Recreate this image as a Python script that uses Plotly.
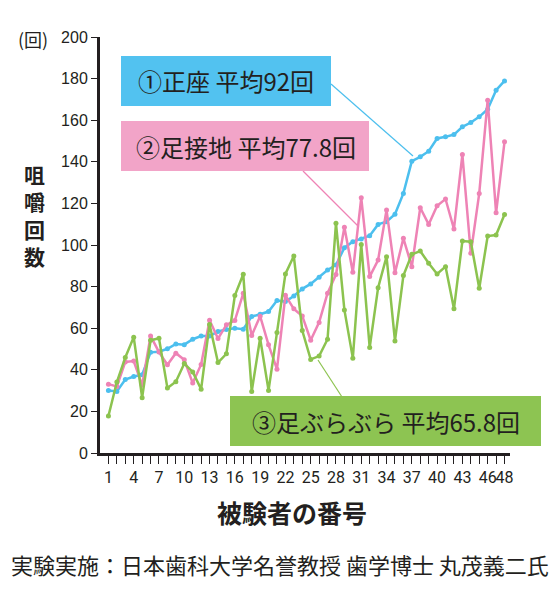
import plotly.graph_objects as go

# ---- data ----
subjects = list(range(1, 49))
tick_labels = [str(i) if (i - 1) % 3 == 0 or i == 48 else "" for i in subjects]

seiza = [30.0, 29.6, 35.3, 36.8, 37.6, 48.4, 48.7, 50.1, 52.4, 52.1,
         54.7, 56.2, 56.2, 58.4, 59.4, 60.0, 59.5, 65.6, 66.7, 68.0,
         73.3, 72.8, 75.5, 78.9, 81.3, 84.5, 88.0, 90.4, 98.7, 101.6,
         102.9, 104.5, 109.9, 111.2, 114.8, 124.8, 140.3, 142.4, 145.1, 151.2,
         152.0, 153.1, 156.8, 158.9, 161.6, 165.3, 174.4, 178.9]
ashi_setchi = [33.1, 32.0, 43.8, 44.2, 32.6, 56.3, 48.5, 42.4, 48.0, 44.8,
               33.6, 42.6, 63.8, 55.0, 61.6, 63.7, 76.8, 56.5, 65.8, 52.0,
               40.3, 75.8, 69.3, 65.9, 54.2, 62.8, 76.8, 85.8, 108.5, 86.9,
               122.7, 84.8, 92.8, 116.8, 86.6, 103.2, 89.6, 117.9, 109.9, 118.9,
               122.1, 107.7, 143.5, 96.0, 124.8, 169.6, 115.5, 149.6]
ashi_burabura = [17.8, 34.1, 45.9, 55.7, 26.6, 54.2, 55.2, 31.2, 34.3, 43.0,
                 39.0, 30.7, 61.8, 43.5, 47.7, 75.7, 85.9, 29.6, 55.2, 30.1,
                 57.9, 86.1, 94.7, 58.9, 45.0, 46.6, 54.7, 110.4, 68.8, 45.6,
                 100.3, 50.7, 79.5, 94.4, 53.9, 85.3, 95.5, 97.1, 91.2, 86.1,
                 89.6, 69.3, 101.9, 101.6, 79.2, 104.3, 104.8, 114.7]

series_names = ["①正座 平均92回", "②足接地 平均77.8回", "③足ぶらぶら 平均65.8回"]
y_ticks = [0, 20, 40, 60, 80, 100, 120, 140, 160, 180, 200]

# ---- style ----
BLUE = "#4cbfee"
PINK = "#ee83b5"
GREEN = "#8cc34f"
BLUE_BOX = "#52c2f0"
PINK_BOX = "#f2a4c8"
GREEN_BOX = "#8dc452"
INK = "#231f20"
JP = "Noto Sans CJK JP, Noto Sans, sans-serif"

# page body adds an 8px offset; work in reference pixel coordinates
OFF = 8
W, H = 560 - OFF, 612 - OFF
PL, PR, PT, PB = 100, 510, 37, 453        # plot area in reference pixels
ML, MT = PL - OFF, PT - OFF
MR, MB = W - (PR - OFF), H - (PB - OFF)
PW = PR - PL
PH = PB - PT


def px(x):
    return (x - PL) / PW


def py(y):
    return (PB - y) / PH


fig = go.Figure()
for vals, color in [(seiza, BLUE), (ashi_setchi, PINK), (ashi_burabura, GREEN)]:
    fig.add_trace(go.Scatter(
        x=subjects, y=vals, mode="lines+markers",
        line=dict(color=color, width=2.5),
        marker=dict(color=color, size=5),
        showlegend=False, hoverinfo="x+y"))

shapes = []
annotations = []

# label boxes: (x0, y0, x1, y1) in reference pixels
boxes = [
    ((121, 56, 331, 106), BLUE_BOX, series_names[0], 226, 81),
    ((121, 121, 369, 171), PINK_BOX, series_names[1], 246, 146),
    ((230, 396, 541, 446), GREEN_BOX, series_names[2], 386, 421),
]
connectors = [
    ((331, 84, 413, 156), BLUE),
    ((303, 171, 358, 226), PINK),
    ((342, 397, 318, 360), GREEN),
]
for (x0, y0, x1, y1), col in connectors:
    shapes.append(dict(type="line", xref="paper", yref="paper",
                       x0=px(x0), y0=py(y0), x1=px(x1), y1=py(y1),
                       line=dict(color=col, width=1.2), layer="above"))
for (x0, y0, x1, y1), col, txt, tx, ty in boxes:
    shapes.append(dict(type="rect", xref="paper", yref="paper",
                       x0=px(x0), y0=py(y0), x1=px(x1), y1=py(y1),
                       fillcolor=col, line=dict(width=0), layer="above"))
    annotations.append(dict(xref="paper", yref="paper", x=px(tx), y=py(ty),
                            text=txt, showarrow=False, xanchor="center", yanchor="middle",
                            font=dict(family=JP, size=24, color=INK)))

# unit label
annotations.append(dict(xref="paper", yref="paper", x=px(33), y=py(39),
                        text="(回)", showarrow=False, xanchor="center", yanchor="middle",
                        font=dict(family=JP, size=18, color=INK)))
# vertical y title
annotations.append(dict(xref="paper", yref="paper", x=px(34), y=py(215),
                        text="<b>咀<br>嚼<br>回<br>数</b>", showarrow=False,
                        xanchor="center", yanchor="middle",
                        font=dict(family=JP, size=21, color=INK)))
# x title
annotations.append(dict(xref="paper", yref="paper", x=px(292), y=py(512),
                        text="<b>被験者の番号</b>", showarrow=False,
                        xanchor="center", yanchor="middle",
                        font=dict(family=JP, size=25, color=INK)))
# credit
annotations.append(dict(xref="paper", yref="paper", x=px(280), y=py(564),
                        text="実験実施：日本歯科大学名誉教授 歯学博士 丸茂義二氏",
                        showarrow=False, xanchor="center", yanchor="middle",
                        font=dict(family=JP, size=22, color=INK)))

fig.update_layout(
    width=W, height=H,
    margin=dict(l=ML, r=MR, t=MT, b=MB, pad=0),
    paper_bgcolor="white", plot_bgcolor="white",
    shapes=shapes, annotations=annotations,
    xaxis=dict(range=[0, 48.65], tickmode="array", tickvals=subjects, ticktext=tick_labels,
               ticks="outside", ticklen=8, tickwidth=1, tickcolor=INK,
               showline=True, linewidth=3, linecolor=INK,
               showgrid=False, zeroline=False, tickangle=0,
               tickfont=dict(family="Liberation Sans Narrow, Roboto, sans-serif", size=16, color=INK)),
    yaxis=dict(range=[0, 200], tickmode="array", tickvals=y_ticks,
               ticks="outside", ticklen=6, tickwidth=1, tickcolor=INK,
               showline=True, linewidth=3, linecolor=INK,
               showgrid=False, zeroline=False,
               tickfont=dict(family="Liberation Sans, Arial, sans-serif", size=16, color=INK)),
)

fig.write_html("out.html")
